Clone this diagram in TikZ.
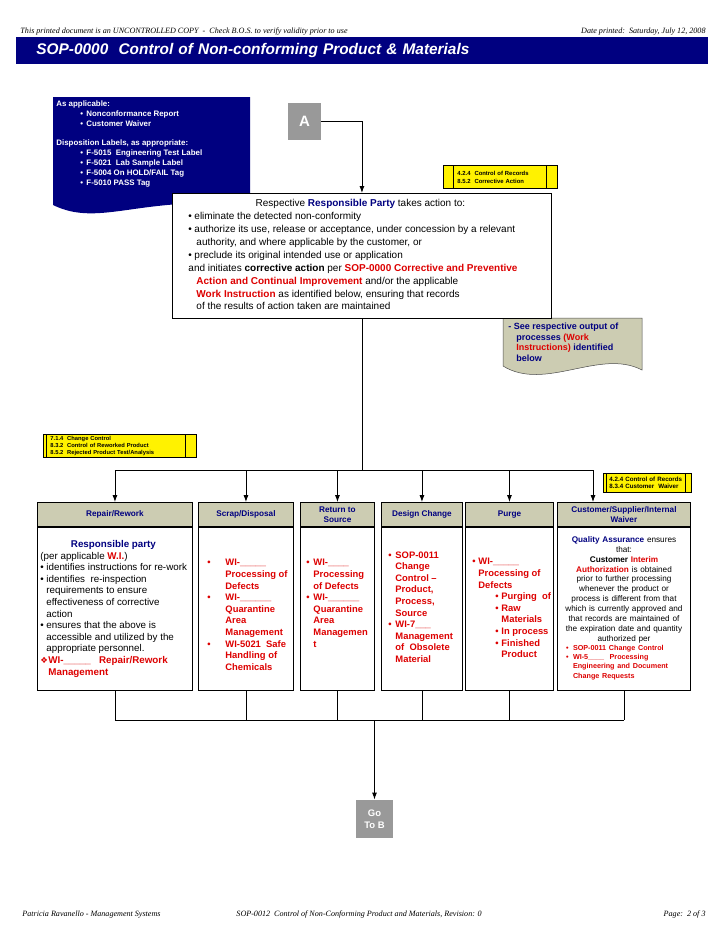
\documentclass[tikz,border=0pt]{standalone}
\usepackage{fontspec}
\setmainfont{Liberation Sans}
\newfontfamily\timesfont{Liberation Serif}
\newfontfamily\dingfont{DejaVu Sans}
\usetikzlibrary{arrows.meta,positioning}
\definecolor{sopnavy}{RGB}{0,0,128}
\definecolor{soptan}{RGB}{204,204,178}
\definecolor{sopgray}{RGB}{153,153,153}
\definecolor{sopred}{RGB}{221,0,0}
\newcommand{\rd}[1]{\textcolor{sopred}{\textbf{#1}}}
\newcommand{\nv}[1]{\textcolor{sopnavy}{\textbf{#1}}}
\newcommand{\bul}[1][7pt]{\makebox[#1][l]{\textbullet}}
\newcommand{\ind}[1][7pt]{\hspace*{#1}}

\begin{document}
\begin{tikzpicture}[x=1pt,y=-1pt,line width=0.9pt,
    every node/.style={inner sep=0pt},
    txt/.style={anchor=north west,align=left,font=\fontsize{9.8}{11.6}\selectfont},
    redtxt/.style={txt,text=sopred,font=\fontsize{9.4}{11.6}\selectfont\bfseries},
    pagetxt/.style={font=\timesfont\itshape\fontsize{8.1}{9}\selectfont},
    hdrbox/.style={draw,fill=soptan,minimum height=24pt,anchor=south west,align=center,
      text=sopnavy,font=\fontsize{8.2}{10}\selectfont\bfseries},
    bodybox/.style={draw,fill=white,minimum height=163pt},
    graybox/.style={fill=sopgray,text=white,align=center},
    recbox/.style 2 args={draw,fill=yellow,anchor=north west,align=left,
      path picture={
        \draw[line width=0.6pt] ([xshift=#1]path picture bounding box.north west)
          -- ([xshift=#1]path picture bounding box.south west);
        \draw[line width=0.6pt] ([xshift=-#2]path picture bounding box.north east)
          -- ([xshift=-#2]path picture bounding box.south east);}},
    arr/.style={-{Latex[length=7pt,width=5pt]}}
  ]
  \useasboundingbox (0,0) rectangle (728,943);

  % page header and title
  \node[pagetxt,anchor=base west] (copynote) at (20,33)
    {This printed document is an UNCONTROLLED COPY\ \ -\ \ Check B.O.S. to verify validity prior to use};
  \node[pagetxt,anchor=base east] (datenote) at (706,33) {Date printed:\ \ Saturday, July 12, 2008};
  \node[fill=sopnavy,anchor=north west,minimum height=27pt,text width=652pt,inner xsep=20pt,
        align=left,text=white,font=\fontsize{15.4}{18}\selectfont\bfseries\itshape] (title) at (16,37)
    {SOP-0000\ \ Control of Non-conforming Product \& Materials};

  % inputs document
  \fill[sopnavy] (53,97) -- (250,97) -- (250,205) .. controls (140,195) and (100,228) .. (53,205) -- cycle;
  \node[txt,text=white,font=\fontsize{7.9}{10}\selectfont\bfseries] (inputs) at (56,100)
    {As applicable:\\
     \ind[24pt]\bul[6pt]Nonconformance Report\\
     \ind[24pt]\bul[6pt]Customer Waiver\\[9pt]
     Disposition Labels, as appropriate:\\
     \ind[24pt]\bul[6pt]F-5015\ \ Engineering Test Label\\
     \ind[24pt]\bul[6pt]F-5021\ \ Lab Sample Label\\
     \ind[24pt]\bul[6pt]F-5004\ On HOLD/FAIL Tag\\
     \ind[24pt]\bul[6pt]F-5010\ PASS Tag};

  \node[graybox,minimum width=33pt,minimum height=37pt,font=\fontsize{15}{15}\selectfont\bfseries]
    (boxA) at (304.5,121.5) {A};
  \node[recbox={10pt}{11pt},minimum width=114pt,minimum height=23pt,text width=86pt,
        font=\fontsize{5.9}{8}\selectfont\bfseries] (recA) at (443,165)
    {4.2.4\ \ Control of Records\\8.5.2\ \ Corrective Action};

  % see note
  \filldraw[fill=soptan,draw=black!70,line width=0.5pt] (503,318) -- (642,318) -- (642,370)
    .. controls (600,348) and (545,392) .. (503,366) -- cycle;
  \node[txt,text=sopnavy,font=\fontsize{9}{10.5}\selectfont\bfseries] (seenote) at (508,323)
    {- See respective output of\\
     \ind[8pt]processes \textcolor{sopred}{(Work}\\
     \ind[8pt]\textcolor{sopred}{Instructions)} identified\\
     \ind[8pt]below};

  % responsible party box
  \node[draw,fill=white,anchor=north west,minimum width=379pt,minimum height=125pt] (resp) at (172,193) {};
  \node[txt,font=\fontsize{10}{12.9}\selectfont] (resptxt) at (188,199)
    {\makebox[344pt][c]{Respective \nv{Responsible Party} takes action to:}\\
     \bul[6pt]eliminate the detected non-conformity\\
     \bul[6pt]authorize its use, release or acceptance, under concession by a relevant\\
     \ind[8pt]authority, and where applicable by the customer, or\\
     \bul[6pt]preclude its original intended use or application\\
     and initiates \textbf{corrective action} per \rd{SOP-0000 Corrective and Preventive}\\
     \ind[8pt]\rd{Action and Continual Improvement} and/or the applicable\\
     \ind[8pt]\rd{Work Instruction} as identified below, ensuring that records\\
     \ind[8pt]of the results of action taken are maintained};

  \node[recbox={3pt}{11pt},minimum width=153pt,minimum height=23pt,text width=139pt,
        font=\fontsize{5.8}{6.8}\selectfont\bfseries] (recB) at (43,434)
    {7.1.4\ \ Change Control\\8.3.2\ \ Control of Reworked Product\\8.5.2\ \ Rejected Product Test/Analysis};
  \node[recbox={3pt}{6pt},minimum width=88pt,minimum height=19pt,text width=76pt,
        font=\fontsize{6.2}{7.5}\selectfont\bfseries] (recC) at (603,473)
    {4.2.4 Control of Records\\8.3.4 Customer\ \ Waiver};

  % process columns
  \node[hdrbox,minimum width=155pt] (hdrep) at (37,527) {Repair/Rework};
  \node[hdrbox,minimum width=95pt] (hdscrap) at (198,527) {Scrap/Disposal};
  \node[hdrbox,minimum width=74pt] (hdret) at (300,527) {Return to\\Source};
  \node[hdrbox,minimum width=81pt] (hddes) at (381,527) {Design Change};
  \node[hdrbox,minimum width=88pt] (hdpurge) at (465,527) {Purge};
  \node[hdrbox,minimum width=133pt] (hdcust) at (557,527) {Customer/Supplier/Internal\\Waiver};
  \node[bodybox,minimum width=155pt,below=0pt of hdrep] (bdrep) {};
  \node[bodybox,minimum width=95pt,below=0pt of hdscrap] (bdscrap) {};
  \node[bodybox,minimum width=74pt,below=0pt of hdret] (bdret) {};
  \node[bodybox,minimum width=81pt,below=0pt of hddes] (bddes) {};
  \node[bodybox,minimum width=88pt,below=0pt of hdpurge] (bdpurge) {};
  \node[bodybox,minimum width=133pt,below=0pt of hdcust] (bdcust) {};

  \node[txt] (reptxt) at (40,540)
    {\makebox[146pt][c]{\nv{Responsible party}}\\
     (per applicable \rd{W.I.})\\
     \bul[6pt]identifies instructions for re-work\\
     \bul[6pt]identifies\ \ re-inspection\\
     \ind[6pt]requirements to ensure\\
     \ind[6pt]effectiveness of corrective\\
     \ind[6pt]action\\
     \bul[6pt]ensures that the above is\\
     \ind[6pt]accessible and utilized by the\\
     \ind[6pt]appropriate personnel.\\
     \textcolor{sopred}{\makebox[8pt][l]{\dingfont\fontsize{8.5}{8.5}\selectfont ❖}}\rd{WI-\_\_\_\_\_\ \ \ Repair/Rework}\\
     \ind[8pt]\rd{Management}};
  \node[redtxt] (scraptxt) at (207,559)
    {\bul[18pt]WI-\_\_\_\_\_\\ \ind[18pt]Processing of\\ \ind[18pt]Defects\\
     \bul[18pt]WI-\_\_\_\_\_\_\\ \ind[18pt]Quarantine\\ \ind[18pt]Area\\ \ind[18pt]Management\\
     \bul[18pt]WI-5021\ \ Safe\\ \ind[18pt]Handling of\\ \ind[18pt]Chemicals};
  \node[redtxt] (rettxt) at (306,559)
    {\bul WI-\_\_\_\_\\ \ind Processing\\ \ind of Defects\\
     \bul WI-\_\_\_\_\_\_\\ \ind Quarantine\\ \ind Area\\ \ind Managemen\\ \ind t};
  \node[redtxt] (destxt) at (388,551)
    {\bul SOP-0011\\ \ind Change\\ \ind Control --\\ \ind Product,\\ \ind Process,\\ \ind Source\\
     \bul WI-7\_\_\_\\ \ind Management\\ \ind of\ \ Obsolete\\ \ind Material};
  \node[redtxt] (purgetxt) at (472,558)
    {\bul[6pt]WI-\_\_\_\_\_\\ \ind[6pt]Processing of\\ \ind[6pt]Defects\\
     \ind[23pt]\bul[6pt]Purging\ \ of\\ \ind[23pt]\bul[6pt]Raw\\ \ind[29pt]Materials\\
     \ind[23pt]\bul[6pt]In process\\ \ind[23pt]\bul[6pt]Finished\\ \ind[29pt]Product};
  \node[anchor=north,align=center,text width=150pt,font=\fontsize{8.2}{9.9}\selectfont] (custtxt) at (624,536)
    {\nv{Quality Assurance} ensures\\ that:\\ \textbf{Customer} \rd{Interim}\\
     \rd{Authorization} is obtained\\ prior to further processing\\ whenever the product or\\
     process is different from that\\ which is currently approved and\\
     that records are maintained of\\ the expiration date and quantity\\ authorized per\par
     \fontsize{7.2}{9}\selectfont\bfseries\color{sopred}%
     \makebox[\linewidth][l]{\ind[17pt]\bul[7pt]SOP-0011 Change Control}\\
     \makebox[\linewidth][l]{\ind[17pt]\bul[7pt]WI-5\_\_\_\_\ \ Processing}\\
     \makebox[\linewidth][l]{\ind[24pt]Engineering and Document}\\
     \makebox[\linewidth][l]{\ind[24pt]Change Requests}};

  \node[graybox,minimum width=37pt,minimum height=38pt,font=\fontsize{9.5}{12}\selectfont\bfseries]
    (gotob) at (374.5,819) {Go\\To B};

  % connectors
  \coordinate (bus) at (0,470);
  \coordinate (custin) at (593,470);
  \coordinate (botbus) at (0,720);
  \draw[arr] (boxA.east) -| (resp.north);
  \draw (resp.south) -- (resp.south |- bus);
  \draw (hdrep.north |- bus) -- (custin);
  \foreach \hd in {hdrep,hdscrap,hdret,hddes,hdpurge}
    \draw[arr] (\hd.north |- bus) -- (\hd.north);
  \draw[arr] (custin) -- (custin |- hdcust.north);
  \foreach \bd in {bdrep,bdscrap,bdret,bddes,bdpurge,bdcust}
    \draw (\bd.south) -- (\bd.south |- botbus);
  \draw (bdrep.south |- botbus) -- (bdcust.south |- botbus);
  \draw[arr] (gotob.north |- botbus) -- (gotob.north);

  % page footer
  \node[pagetxt,anchor=base west] (author) at (22,916) {Patricia Ravanello - Management Systems};
  \node[pagetxt,anchor=base west] (revnote) at (236,916)
    {SOP-0012\ \ Control of Non-Conforming Product and Materials, Revision: 0};
  \node[pagetxt,anchor=base east] (pagenum) at (706,916) {Page:\ \ 2 of 3};
\end{tikzpicture}
\end{document}
